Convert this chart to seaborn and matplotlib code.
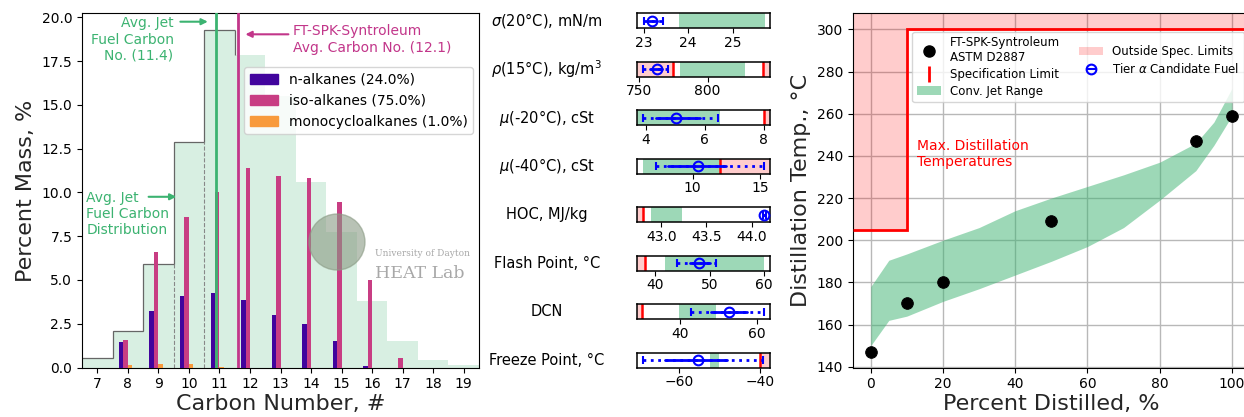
import numpy as np
import seaborn as sns
import matplotlib.pyplot as plt
from matplotlib.lines import Line2D
from matplotlib.patches import Patch, Ellipse

sns.set_style("ticks")
plt.rcParams['font.family'] = ['DejaVu Sans']
plt.rcParams['axes.edgecolor'] = 'black'
plt.rcParams['text.color'] = 'black'
plt.rcParams['xtick.color'] = 'black'
plt.rcParams['ytick.color'] = 'black'

# ---- carbon number distribution ----
carbon = [7, 8, 9, 10, 11, 12, 13, 14, 15, 16, 17, 18, 19]
jet_avg = [0.57, 2.06, 5.9, 12.9, 19.3, 17.85, 15.5, 10.6, 7.75, 3.8, 1.5, 0.45, 0.13]
n_alkanes = [0, 1.45, 3.2, 4.1, 4.25, 3.85, 3.0, 2.5, 1.5, 0.1, 0, 0, 0]
iso_alkanes = [0, 1.55, 6.6, 8.6, 10.0, 11.4, 10.95, 10.85, 9.45, 5.0, 0.52, 0, 0]
monocyclo = [0, 0.15, 0.22, 0.2, 0.05, 0, 0, 0, 0, 0, 0, 0, 0]
class_names = ['n-alkanes', 'iso-alkanes', 'monocycloalkanes']
class_totals = [24.0, 75.0, 1.0]
avg_jet_carbon = 11.4
avg_fuel_carbon = 12.1

# ---- property panels ----
prop_labels = ['$\\sigma$(20°C), mN/m', '$\\rho$(15°C), kg/m$^3$', '$\\mu$(-20°C), cSt',
               '$\\mu$(-40°C), cSt', 'HOC, MJ/kg', 'Flash Point, °C', 'DCN', 'Freeze Point, °C']
cand_val = [23.19, 763, 5.0, 10.37, 44.14, 48.0, 52.6, -55.4]
cand_lo = [23.1, 758, 4.32, 8.2, 44.13, 46.4, 47.9, -63.5]
cand_hi = [23.3, 767, 5.84, 12.5, 44.15, 50.1, 57.5, -48.2]
cand_lo2 = [23.0, 753.3, 3.9, 7.3, 44.125, 43.9, 42.8, -69.0]
cand_hi2 = [23.43, 771.4, 6.45, 15.25, 44.155, 51.2, 61.8, -39.2]
conv_lo = [23.8, 779.9, 3.5, 6.33, 42.88, 41.7, 39.6, -52.3]
conv_hi = [25.73, 827.2, 6.5, 12.0, 43.23, 59.9, 49.2, -50.1]
spec_min = [None, 775, None, None, 42.8, 38, 30, None]
spec_max = [None, 840, 8, 12, None, None, None, -40]
prop_xlim = [(22.85, 25.83), (748.8, 845), (3.69, 8.2), (5.89, 15.7),
             (42.73, 44.2), (36.6, 61.0), (28.7, 63.3), (-70.4, -37.6)]
prop_ticks = [[23, 24, 25], [750, 800], [4, 6, 8], [10, 15],
              [43.0, 43.5, 44.0], [40, 50, 60], [40, 60], [-60, -40]]
prop_fmt = ['%d', '%d', '%d', '%d', '%.1f', '%d', '%d', '%d']

# ---- distillation ----
pct = [0, 10, 20, 50, 90, 100]
temp = [147, 170, 180, 209, 247, 259]
band_pct = [0, 5, 10, 20, 30, 40, 50, 60, 70, 80, 90, 95, 100]
band_lo = [150, 162, 164, 171, 177, 183.5, 190, 197, 206, 219, 233, 245, 259]
band_hi = [178, 190.5, 193.5, 200, 206, 214, 220, 225.5, 231, 237, 246, 256, 272]
spec_edges = [-5, 10, 105]
spec_temp = [205, 300]

green = '#3cb371'
mag = '#c2368a'
cols = ['#41049d', '#c83d83', '#f89a3c']

W, H = 1244, 417
fig = plt.figure(figsize=(W / 100, H / 100), dpi=100)

# ================= left panel =================
ax1 = fig.add_axes([82 / W, 1 - 367.5 / H, 397 / W, 354.2 / H])
c = np.array(carbon)
ax1.bar(c, jet_avg, width=1.0, color=green, alpha=0.2, lw=0, zorder=1)
edges = np.arange(6.5, 12.0, 1.0)
ax1.stairs(jet_avg[:5], edges, baseline=None, color='#666666', lw=0.9, zorder=2)
ax1.vlines([9.5, 10.5], 0, [jet_avg[2], jet_avg[3]], colors='#888888',
           linestyles='--', lw=0.8, zorder=2)
ax1.vlines([11.5], jet_avg[5], jet_avg[4], colors='#666666', lw=0.9, zorder=2)
w = 0.145
for k, vals in enumerate([n_alkanes, iso_alkanes, monocyclo]):
    ax1.bar(c + (k - 1.5) * w, vals, width=w, color=cols[k], lw=0, zorder=3)

# the average lines sit half a bin left in the original figure
ax1.axvline(avg_jet_carbon - 0.5, color=green, lw=2, zorder=4)
ax1.axvline(avg_fuel_carbon - 0.5, color=mag, lw=2, zorder=4)

arw = dict(arrowstyle='-|>', lw=1.5, mutation_scale=9)
ax1.text(9.5, 18.73, 'Avg. Jet\nFuel Carbon\nNo. (%.1f)' % avg_jet_carbon, color=green,
         ha='right', va='center', multialignment='right', fontsize=10)
ax1.annotate('', xy=(10.71, 19.75), xytext=(9.63, 19.75), arrowprops=dict(color=green, **arw))
ax1.text(13.4, 18.73, 'FT-SPK-Syntroleum\nAvg. Carbon No. (%.1f)' % avg_fuel_carbon, color=mag,
         ha='left', va='center', fontsize=10)
ax1.annotate('', xy=(11.76, 19.03), xytext=(13.35, 19.03), arrowprops=dict(color=mag, **arw))
ax1.text(6.64, 8.75, 'Avg. Jet\nFuel Carbon\nDistribution', color=green,
         ha='left', va='center', fontsize=10)
ax1.annotate('', xy=(9.68, 9.75), xytext=(8.59, 9.75), arrowprops=dict(color=green, **arw))

handles = [Patch(color=cols[k]) for k in range(3)]
labels = ['%s (%.1f%%)' % (n, t) for n, t in zip(class_names, class_totals)]
ax1.legend(handles, labels, loc='upper right', bbox_to_anchor=(0.985, 0.848),
           fontsize=10, frameon=True, handlelength=2.0, borderaxespad=0)

ax1.set_xlim(6.5, 19.5)
ax1.set_ylim(0, 20.23)
ax1.set_xticks(carbon)
ax1.set_yticks(np.arange(0, 20.1, 2.5))
ax1.yaxis.set_major_formatter(plt.FormatStrFormatter('%.1f'))
ax1.tick_params(labelsize=10, length=3.5)
ax1.set_xlabel('Carbon Number, #', fontsize=16, labelpad=2)
ax1.set_ylabel('Percent Mass, %', fontsize=16, labelpad=4)

# watermark
fig.add_artist(Ellipse((337 / W, 1 - 242 / H), 56 / W, 56 / H, color='#8a9a84', alpha=0.6, zorder=6))
fig.text(375 / W, 1 - 253 / H, 'University of Dayton', family='serif', fontsize=6.5,
         color='#a8a8a8', va='center', zorder=6)
fig.text(375 / W, 1 - 273 / H, 'HEAT Lab', family='serif', fontsize=12.5,
         color='#a8a8a8', va='center', zorder=6)

# ================= middle panels =================
for i in range(8):
    top = 13.3 + i * 48.5
    ax = fig.add_axes([637 / W, 1 - (top + 15) / H, 132.6 / W, 15 / H])
    x0, x1 = prop_xlim[i]
    ax.axvspan(conv_lo[i], conv_hi[i], color=green, alpha=0.5, lw=0, zorder=1)
    if spec_min[i] is not None:
        ax.axvspan(x0 - 100, spec_min[i], color='red', alpha=0.2, lw=0, zorder=0)
        ax.axvline(spec_min[i], color='red', lw=1.8, zorder=2)
    if spec_max[i] is not None:
        ax.axvspan(spec_max[i], x1 + 100, color='red', alpha=0.2, lw=0, zorder=0)
        ax.axvline(spec_max[i], color='red', lw=1.8, zorder=2)
    ax.plot([cand_lo2[i], cand_hi2[i]], [0.5, 0.5], ls=':', color='blue', lw=2, zorder=3)
    ax.plot([cand_lo2[i], cand_hi2[i]], [0.5, 0.5], ls='none', marker='|', ms=6, mew=1.5,
            color='blue', zorder=3)
    ax.plot([cand_lo[i], cand_hi[i]], [0.5, 0.5], ls='-', color='blue', lw=2, zorder=4)
    ax.plot([cand_val[i]], [0.5], marker='o', mfc='none', mec='blue', mew=1.5, ms=7, zorder=5)
    ax.set_xlim(x0, x1)
    ax.set_ylim(0, 1)
    ax.set_yticks([])
    ax.set_xticks(prop_ticks[i])
    ax.set_xticklabels([prop_fmt[i] % t if t >= 0 else '\u2212' + prop_fmt[i] % -t
                        for t in prop_ticks[i]])
    ax.tick_params(labelsize=10, length=3.5, pad=2)
    for s in ax.spines.values():
        s.set_linewidth(1.1)
    ax.text(-0.68, 0.5, prop_labels[i], transform=ax.transAxes, ha='center', va='center',
            fontsize=10.5)

# ================= right panel =================
ax3 = fig.add_axes([852.7 / W, 1 - 367.7 / H, 397.3 / W, 354.4 / H])
ytop = 307.6
ax3.stairs(spec_temp, spec_edges, baseline=ytop, fill=True, color='red', alpha=0.2, lw=0, zorder=1)
ax3.stairs(spec_temp, spec_edges, baseline=None, color='red', lw=2, zorder=3)
ax3.fill_between(band_pct, band_lo, band_hi, color=green, alpha=0.5, lw=0, zorder=2)
sns.scatterplot(x=pct, y=temp, color='black', s=70, edgecolor='black', ax=ax3, zorder=5)
ax3.text(12.9, 240.9, 'Max. Distillation\nTemperatures', color='red', fontsize=10,
         ha='left', va='center', zorder=4)
ax3.set_xlim(-5, 105)
ax3.set_ylim(139.55, ytop)
ax3.set_xticks(np.arange(0, 101, 20))
ax3.set_yticks(np.arange(140, 301, 20))
ax3.grid(True, color='#b8b8b8', lw=1)
ax3.set_axisbelow(True)
ax3.tick_params(labelsize=10, length=3.5)
ax3.set_xlabel('Percent Distilled, %', fontsize=16, labelpad=2)
ax3.set_ylabel('Distillation Temp., °C', fontsize=16, labelpad=4)

leg_handles = [
    Line2D([], [], ls='none', marker='o', color='black', ms=8),
    Line2D([], [], ls='none', marker='|', color='red', ms=12, mew=2),
    Patch(color=green, alpha=0.5, lw=0),
    Patch(color='red', alpha=0.2, lw=0),
    (Line2D([], [], ls='none', marker='o', mfc='none', mec='blue', mew=1.5, ms=7),
     Line2D([], [], ls='none', marker='_', color='blue', mew=1.5, ms=7)),
]
leg_labels = ['FT-SPK-Syntroleum\nASTM D2887', 'Specification Limit', 'Conv. Jet Range',
              'Outside Spec. Limits', 'Tier $\\alpha$ Candidate Fuel']
ax3.legend(leg_handles, leg_labels, ncol=2, loc='upper right', bbox_to_anchor=(0.985, 0.948),
           fontsize=8.5, borderaxespad=0, columnspacing=1.6, handletextpad=0.8,
           labelspacing=0.3).set_zorder(6)

fig.savefig('out.png', dpi=100)
